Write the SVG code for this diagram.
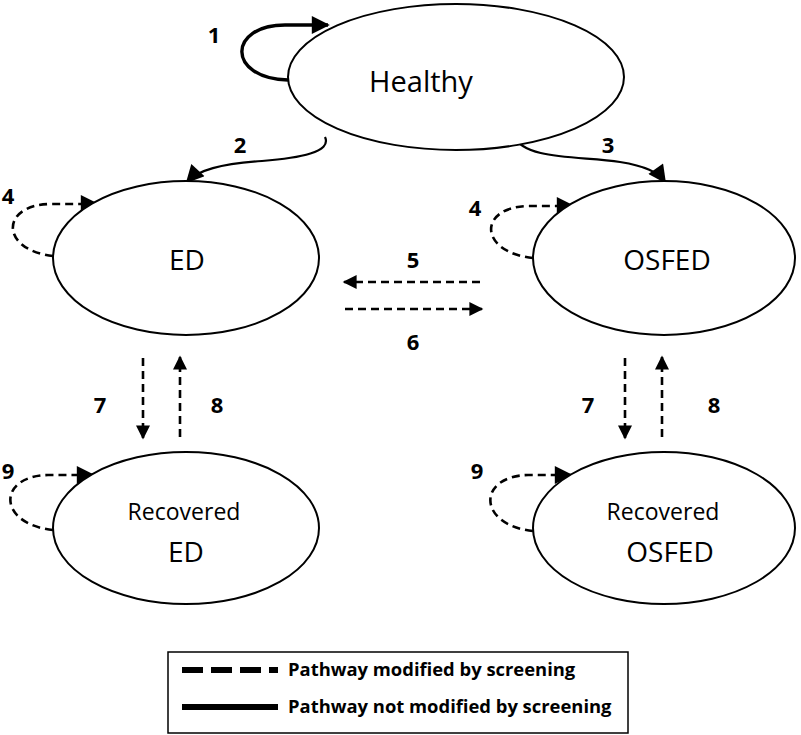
<svg xmlns="http://www.w3.org/2000/svg" width="801" height="735" viewBox="0 0 801 735">
<style>
.node{fill:#fff;stroke:#000;stroke-width:2}
.lbl{font-family:"Open Sans","Liberation Sans",sans-serif;fill:#000;text-anchor:middle}
.num{font-family:"Open Sans","Liberation Sans",sans-serif;font-weight:bold;font-size:22px;fill:#000;text-anchor:middle}
.solid{fill:none;stroke:#000;stroke-width:2.2}
.thick{fill:none;stroke:#000;stroke-width:3.4}
.dash{fill:none;stroke:#000;stroke-width:2.6;stroke-dasharray:8 5}
.leg{font-family:"Open Sans","Liberation Sans",sans-serif;font-weight:bold;font-size:18.4px;fill:#000}
</style>
<defs>
<marker id="ah" viewBox="0 0 10 10" refX="9" refY="5" markerWidth="22" markerHeight="18" markerUnits="userSpaceOnUse" orient="auto">
<path d="M0,0 L10,5 L0,10 z" fill="#000"/>
</marker>
<marker id="as" viewBox="0 0 10 10" refX="9" refY="5" markerWidth="16" markerHeight="14" markerUnits="userSpaceOnUse" orient="auto">
<path d="M0,0 L10,5 L0,10 z" fill="#000"/>
</marker>
</defs>
<rect width="801" height="735" fill="#fff"/>
<g id="connectors">
<path id="e1" class="thick" d="M288,80 C 226,78 228,25 285,25 L 328,25" marker-end="url(#ah)"/>
<path id="e2" class="solid" d="M325,137 C 332,152 300,158 262,161 C 220,164 198,170 187,182" marker-end="url(#ah)"/>
<path id="e3" class="solid" d="M514,136 C 524,160 580,156 620,162 C 645,166 658,172 665,182" marker-end="url(#ah)"/>
<path id="e4a" class="dash" d="M53,256 C 0,250 0,205 50,204 L 97,204" marker-end="url(#ah)"/>
<path id="e4b" class="dash" d="M533,258 C 478,252 478,207 528,206 L 573,206" marker-end="url(#ah)"/>
<path id="e5" class="dash" d="M480,282 L 344,282" marker-end="url(#as)"/>
<path id="e6" class="dash" d="M345,309 L 482,309" marker-end="url(#as)"/>
<path id="e7a" class="dash" d="M143,358 L 143,438" marker-end="url(#as)"/>
<path id="e8a" class="dash" d="M180,437 L 180,357" marker-end="url(#as)"/>
<path id="e7b" class="dash" d="M625,358 L 625,438" marker-end="url(#as)"/>
<path id="e8b" class="dash" d="M662,437 L 662,357" marker-end="url(#as)"/>
<path id="e9a" class="dash" d="M53,530 C -3,524 -3,476 48,475 L 93,475" marker-end="url(#ah)"/>
<path id="e9b" class="dash" d="M533,531 C 477,525 477,476 528,475 L 571,475" marker-end="url(#ah)"/>
</g>
<g id="healthy">
<ellipse class="node" cx="456" cy="77" rx="168" ry="73"/>
<text class="lbl" x="421" y="92" font-size="29">Healthy</text>
</g>
<g id="ed">
<ellipse class="node" cx="186" cy="258" rx="133" ry="77"/>
<text class="lbl" x="187" y="270" font-size="28">ED</text>
</g>
<g id="osfed">
<ellipse class="node" cx="664" cy="258" rx="131" ry="77"/>
<text class="lbl" x="667" y="270" font-size="28">OSFED</text>
</g>
<g id="recovered-ed">
<ellipse class="node" cx="186" cy="528" rx="133" ry="76"/>
<text class="lbl" x="184" y="520" font-size="23">Recovered</text>
<text class="lbl" x="186" y="562" font-size="28">ED</text>
</g>
<g id="recovered-osfed">
<ellipse class="node" cx="664" cy="528" rx="131" ry="76"/>
<text class="lbl" x="663" y="520" font-size="23">Recovered</text>
<text class="lbl" x="670" y="562" font-size="28">OSFED</text>
</g>
<g id="labels">
<text class="num" x="214" y="43">1</text>
<text class="num" x="240" y="153">2</text>
<text class="num" x="608" y="153">3</text>
<text class="num" x="8" y="204">4</text>
<text class="num" x="475" y="216">4</text>
<text class="num" x="413" y="268">5</text>
<text class="num" x="413" y="350">6</text>
<text class="num" x="100" y="413">7</text>
<text class="num" x="217" y="413">8</text>
<text class="num" x="588" y="413">7</text>
<text class="num" x="714" y="413">8</text>
<text class="num" x="8" y="479">9</text>
<text class="num" x="477" y="479">9</text>
</g>
<g id="legend">
<rect x="168" y="652" width="460" height="81" fill="none" stroke="#000" stroke-width="1.5"/>
<line x1="182" y1="670" x2="278" y2="670" stroke="#000" stroke-width="6" stroke-dasharray="21 8"/>
<line x1="182" y1="707" x2="278" y2="707" stroke="#000" stroke-width="6"/>
<text class="leg" x="288" y="676">Pathway modified by screening</text>
<text class="leg" x="288" y="713">Pathway not modified by screening</text>
</g>
</svg>
